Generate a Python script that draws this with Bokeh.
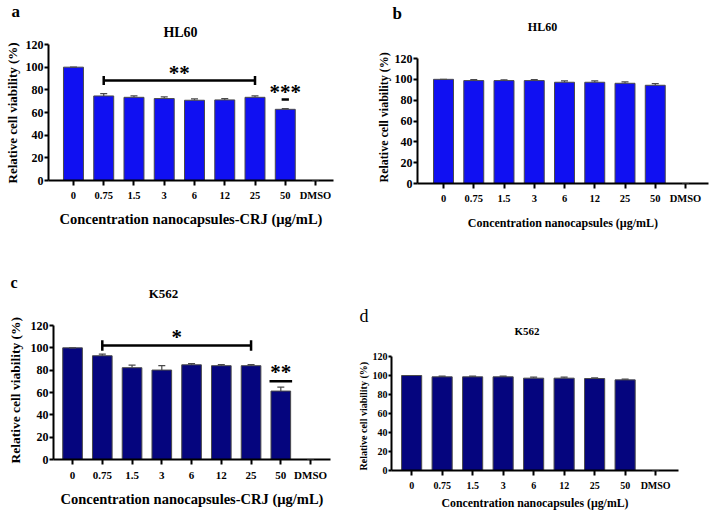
from bokeh.plotting import figure
from bokeh.models import Range1d, FixedTicker, Whisker, ColumnDataSource, Label, TeeHead, Title
from bokeh.layouts import column, row
from bokeh.embed import file_html
from bokeh.resources import INLINE

# ---------------- data ----------------
categories = ["0", "0.75", "1.5", "3", "6", "12", "25", "50", "DMSO"]
y_ticks = [0, 20, 40, 60, 80, 100, 120]

hl60_crj = [100, 74.6, 73.4, 72.3, 70.8, 71.1, 73.4, 62.8, 0]
hl60_crj_err = [0, 2.1, 1.2, 1.4, 1.2, 1.1, 1.2, 0.6, 0]
hl60_nano = [100, 98.8, 98.8, 98.8, 97.2, 97.2, 96.2, 94.3, 0]
hl60_nano_err = [0, 0.9, 0.8, 0.9, 1.3, 1.3, 1.3, 1.6, 0]
k562_crj = [100, 92.9, 82.2, 80.1, 84.8, 84.0, 84.0, 61.3, 0]
k562_crj_err = [0, 1.5, 2.4, 3.9, 1.0, 0.9, 0.9, 3.6, 0]
k562_nano = [100, 98.6, 98.6, 98.6, 97.2, 97.2, 96.8, 95.4, 0]
k562_nano_err = [0, 0.7, 0.7, 0.7, 1.0, 1.0, 0.7, 0.7, 0]

# significance marks: bracket [from, to, level], text [label, level]; single [index, line level, label, level]
sig_a_bracket = [1, 6, 88.2]
sig_a_bracket_text = ["**", 94.5]
sig_a_single = [7, 71.4, "***", 78.5]
sig_c_bracket = [1, 6, 102.1]
sig_c_bracket_text = ["*", 110]
sig_c_single = [7, 70.0, "**", 78]

FONT = "Liberation Serif"
BLUE = "#1010F2"
NAVY = "#05057E"
EDGE = "#4a4a4a"
YLABEL = "Relative cell viability (%)"


def make_panel(fig_box, frame_top, axis_box, xr, vals, errs, color, sizes, xlabel, xlab_gap,
               ytick_out, ylab_offset, ylab_gap):
    """axis_box = (L, T, R, B): pixel box of the 0..120 axis span."""
    fx0, fy0, fw, fh = fig_box
    L, T, R, B = axis_box
    ytick_sz, xtick_sz, ylab_sz, xlab_sz = sizes
    ymax = 120.0 * (B - frame_top) / (B - T)
    p = figure(width=fw, height=fh, x_range=Range1d(*xr), y_range=Range1d(0, ymax),
               output_backend="svg", toolbar_location=None, title=None,
               min_border_left=L - fx0, min_border_right=fx0 + fw - R,
               min_border_top=frame_top - fy0, min_border_bottom=fy0 + fh - B)
    p.frame_align = False
    p.outline_line_color = None
    p.xgrid.visible = False
    p.ygrid.visible = False

    x = list(range(len(categories)))
    src = ColumnDataSource(dict(x=x, top=vals,
                                upper=[v + e for v, e in zip(vals, errs)]))
    p.vbar(x="x", top="top", width=0.66, bottom=0, source=src,
           fill_color=color, line_color=EDGE, line_width=1)
    w = Whisker(source=src, base="x", lower="top", upper="upper", dimension="height",
                line_color=EDGE, line_width=1.2,
                upper_head=TeeHead(size=7, line_color=EDGE, line_width=1.2),
                lower_head=None, level="overlay")
    p.add_layout(w)

    for ax in (p.xaxis[0], p.yaxis[0]):
        ax.axis_line_width = 2
        ax.major_tick_line_width = 2
        ax.major_tick_in = 0
        ax.minor_tick_line_color = None
        ax.major_label_text_font = FONT
        ax.major_label_text_font_style = "bold"
        ax.axis_label_text_font = FONT
        ax.axis_label_text_font_style = "bold"
        ax.major_label_text_color = "black"
        ax.axis_label_text_color = "black"

    p.yaxis.ticker = FixedTicker(ticks=y_ticks)
    p.yaxis.bounds = (0, 120)
    p.yaxis.major_tick_out = ytick_out
    p.yaxis.major_label_standoff = 1
    p.yaxis.major_label_text_font_size = f"{ytick_sz}px"
    # y-axis title drawn as a side title so it is centred on the 0..120 span
    p.add_layout(Title(text=YLABEL, align="left", offset=ylab_offset, standoff=ylab_gap,
                       text_font=FONT, text_font_style="bold",
                       text_font_size=f"{ylab_sz}px", text_color="black"), "left")

    p.xaxis.ticker = FixedTicker(ticks=x)
    p.xaxis.major_label_overrides = {i: c for i, c in enumerate(categories)}
    p.xaxis.major_tick_out = 5
    p.xaxis.major_label_standoff = 4
    p.xaxis.major_label_text_font_size = f"{xtick_sz}px"
    p.xaxis.axis_label = xlabel
    p.xaxis.axis_label_text_font_size = f"{xlab_sz}px"
    p.xaxis.axis_label_standoff = xlab_gap

    p._axis_box = axis_box
    p._xr = xr
    return p


def add_titles(p, frame_top, title, t_size, t_pos, letter, l_size, l_center_y, l_offset, l_style):
    L, T, R, B = p._axis_box
    xr = p._xr
    px, py = t_pos
    tx = xr[0] + (px - L) / (R - L) * (xr[1] - xr[0])
    ty = (B - py) * 120.0 / (B - T)
    p.add_layout(Label(x=tx, y=ty, text=title, text_font=FONT, text_font_style="bold",
                       text_font_size=f"{t_size}px", text_align="center",
                       text_baseline="middle", text_color="black"))
    st = 2 * (frame_top - l_center_y - 0.45 * l_size)
    p.add_layout(Title(text=letter, align="left", offset=l_offset, standoff=st,
                       text_font=FONT, text_font_style=l_style,
                       text_font_size=f"{l_size}px", text_color="black"), "above")


def add_bracket(p, br, br_text, single, star_size, cap):
    i0, i1, lev = br
    p.segment(x0=[i0], y0=[lev], x1=[i1], y1=[lev], line_color="black", line_width=2.5)
    p.segment(x0=[i0, i1], y0=[lev - cap, lev - cap], x1=[i0, i1], y1=[lev + cap, lev + cap],
              line_color="black", line_width=2.5)
    p.add_layout(Label(x=(i0 + i1) / 2, y=br_text[1], text=br_text[0], text_font=FONT,
                       text_font_style="bold", text_font_size=f"{star_size}px",
                       text_align="center", text_baseline="middle", text_color="black"))
    xi, lev2, txt, ty = single
    half = 0.12 if len(txt) == 3 else 0.38
    p.segment(x0=[xi - half], y0=[lev2], x1=[xi + half], y1=[lev2], line_color="black",
              line_width=2.5)
    p.add_layout(Label(x=xi, y=ty, text=txt, text_font=FONT, text_font_style="bold",
                       text_font_size=f"{star_size}px", text_align="center",
                       text_baseline="middle", text_color="black"))


XL_CRJ = "Concentration nanocapsules-CRJ (\u00b5g/mL)"
XL_NANO = "Concentration nanocapsules (\u00b5g/mL)"

pa = make_panel((0, 0, 360, 250), 16, (48, 44, 333, 180), (-0.825, 8.594), hl60_crj, hl60_crj_err,
                BLUE, (12, 10.5, 13, 14.5), XL_CRJ, 7, 4, -3, 5)
add_titles(pa, 16, "HL60", 14, (180, 32), "a", 17, 13, -37, "bold")
add_bracket(pa, sig_a_bracket, sig_a_bracket_text, sig_a_single, 21, 4)

pb = make_panel((360, 0, 357, 250), 17, (417, 58, 708, 183), (-0.86, 8.76), hl60_nano, hl60_nano_err,
                BLUE, (12, 10.5, 12, 12), XL_NANO, 9, 4, 1, 1)
add_titles(pb, 17, "HL60", 12, (542, 26), "b", 17, 15, -25, "bold")

pc = make_panel((0, 250, 355, 267), 282, (53, 325, 330, 459), (-0.64, 8.67), k562_crj, k562_crj_err,
                NAVY, (12, 11, 13.5, 14.5), XL_CRJ, 7, 4, -4, 10)
add_titles(pc, 282, "K562", 13, (163, 293), "c", 16, 283, -43, "bold")
add_bracket(pc, sig_c_bracket, sig_c_bracket_text, sig_c_single, 21, 4.8)

pd_ = make_panel((355, 250, 362, 267), 319, (390, 356, 678, 470), (-0.66, 8.75), k562_nano, k562_nano_err,
                 NAVY, (10, 10, 10, 11.8), XL_NANO, 2, 3, 0, 1)
add_titles(pd_, 319, "K562", 11, (526, 330), "d", 18, 317, -32, "normal")

layout = column(row(pa, pb), row(pc, pd_))
open("out.html", "w").write(file_html(layout, INLINE))
